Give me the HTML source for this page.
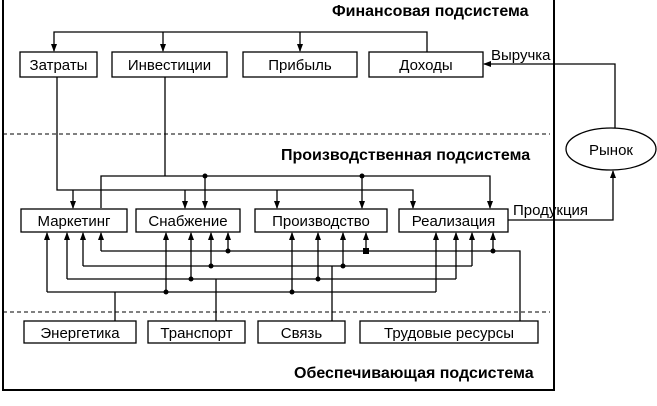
<!DOCTYPE html>
<html><head><meta charset="utf-8"><style>
html,body{margin:0;padding:0;background:#fff}
svg{display:block}
text{font-family:"Liberation Sans","DejaVu Sans",sans-serif;fill:#000}
.b{font-size:15px}
.h{font-size:16px;font-weight:bold}
</style></head><body>
<svg width="657" height="406" viewBox="0 0 657 406" xmlns="http://www.w3.org/2000/svg">
<defs>
<marker id="a" markerWidth="8" markerHeight="8" refX="7" refY="4" orient="auto" markerUnits="userSpaceOnUse">
<path d="M0,1 L8,4 L0,7 Z" fill="#000"/></marker>
</defs>
<g stroke="#000" fill="none" stroke-width="1.3">
<path d="M3,0 V390 H554 V0" stroke-width="2"/>
<path d="M3,134 H550" stroke-dasharray="4,3" stroke-width="1"/>
<path d="M3,312 H550" stroke-dasharray="4,3" stroke-width="1"/>
<rect x="20" y="52" width="77" height="25"/>
<rect x="112" y="52" width="115" height="25"/>
<rect x="243" y="52" width="114" height="25"/>
<rect x="369" y="52" width="114" height="25"/>
<path d="M427,52 V32 H54 V51" marker-end="url(#a)"/>
<path d="M163,32 V51" marker-end="url(#a)"/>
<path d="M300,32 V51" marker-end="url(#a)"/>
<path d="M615,128 V64 H484" marker-end="url(#a)"/>
<ellipse cx="611" cy="149" rx="45" ry="21"/>
<rect x="21" y="209" width="106" height="23"/>
<rect x="136" y="209" width="104" height="23"/>
<rect x="255" y="209" width="132" height="23"/>
<rect x="399" y="209" width="109" height="23"/>
<path d="M508,220 H613 V171" marker-end="url(#a)"/>
<path d="M57,77 V190 H413 V208" marker-end="url(#a)"/>
<path d="M73,190 V208" marker-end="url(#a)"/>
<path d="M185,190 V208" marker-end="url(#a)"/>
<path d="M277,190 V208" marker-end="url(#a)"/>
<path d="M165,77 V176"/>
<path d="M101,208 V176 H490 V208" marker-end="url(#a)"/>
<path d="M205,176 V208" marker-end="url(#a)"/>
<path d="M362,176 V208" marker-end="url(#a)"/>
<path d="M101,251 H520 V321"/>
<path d="M101,251 V233" marker-end="url(#a)"/>
<path d="M228,251 V233" marker-end="url(#a)"/>
<path d="M366,251 V233" marker-end="url(#a)"/>
<path d="M493,251 V233" marker-end="url(#a)"/>
<path d="M83,266 H472"/>
<path d="M332,266 V321"/>
<path d="M83,266 V233" marker-end="url(#a)"/>
<path d="M211,266 V233" marker-end="url(#a)"/>
<path d="M343,266 V233" marker-end="url(#a)"/>
<path d="M472,266 V233" marker-end="url(#a)"/>
<path d="M67,279 H456"/>
<path d="M216,279 V321"/>
<path d="M67,279 V233" marker-end="url(#a)"/>
<path d="M191,279 V233" marker-end="url(#a)"/>
<path d="M318,279 V233" marker-end="url(#a)"/>
<path d="M456,279 V233" marker-end="url(#a)"/>
<path d="M47,292 H436"/>
<path d="M115,292 V321"/>
<path d="M47,292 V233" marker-end="url(#a)"/>
<path d="M166,292 V233" marker-end="url(#a)"/>
<path d="M292,292 V233" marker-end="url(#a)"/>
<path d="M436,292 V233" marker-end="url(#a)"/>
<rect x="24" y="321" width="112" height="22"/>
<rect x="148" y="321" width="97" height="22"/>
<rect x="258" y="321" width="87" height="22"/>
<rect x="360" y="321" width="178" height="22"/>
</g>
<g fill="#000">
<circle cx="205" cy="176" r="2.5"/><circle cx="362" cy="176" r="2.5"/>
<circle cx="228" cy="251" r="2.5"/><circle cx="493" cy="251" r="2.5"/><rect x="363" y="248" width="6" height="6"/>
<circle cx="211" cy="266" r="2.5"/><circle cx="343" cy="266" r="2.5"/>
<circle cx="191" cy="279" r="2.5"/><circle cx="318" cy="279" r="2.5"/>
<circle cx="166" cy="292" r="2.5"/><circle cx="292" cy="292" r="2.5"/>
</g>
<text class="h" x="332" y="16">Финансовая подсистема</text>
<text class="b" x="58.5" y="70" text-anchor="middle">Затраты</text>
<text class="b" x="169.5" y="70" text-anchor="middle">Инвестиции</text>
<text class="b" x="300" y="70" text-anchor="middle">Прибыль</text>
<text class="b" x="426" y="70" text-anchor="middle">Доходы</text>
<text class="b" x="491" y="60">Выручка</text>
<text class="b" x="611" y="155" text-anchor="middle">Рынок</text>
<text class="h" x="281" y="160">Производственная подсистема</text>
<text class="b" x="74" y="226" text-anchor="middle">Маркетинг</text>
<text class="b" x="188" y="226" text-anchor="middle">Снабжение</text>
<text class="b" x="321" y="226" text-anchor="middle">Производство</text>
<text class="b" x="453.5" y="226" text-anchor="middle">Реализация</text>
<text class="b" x="513" y="215">Продукция</text>
<text class="b" x="80" y="338" text-anchor="middle">Энергетика</text>
<text class="b" x="196.5" y="338" text-anchor="middle">Транспорт</text>
<text class="b" x="301.5" y="338" text-anchor="middle">Связь</text>
<text class="b" x="449" y="338" text-anchor="middle">Трудовые ресурсы</text>
<text class="h" x="294" y="378">Обеспечивающая подсистема</text>
</svg>
</body></html>
